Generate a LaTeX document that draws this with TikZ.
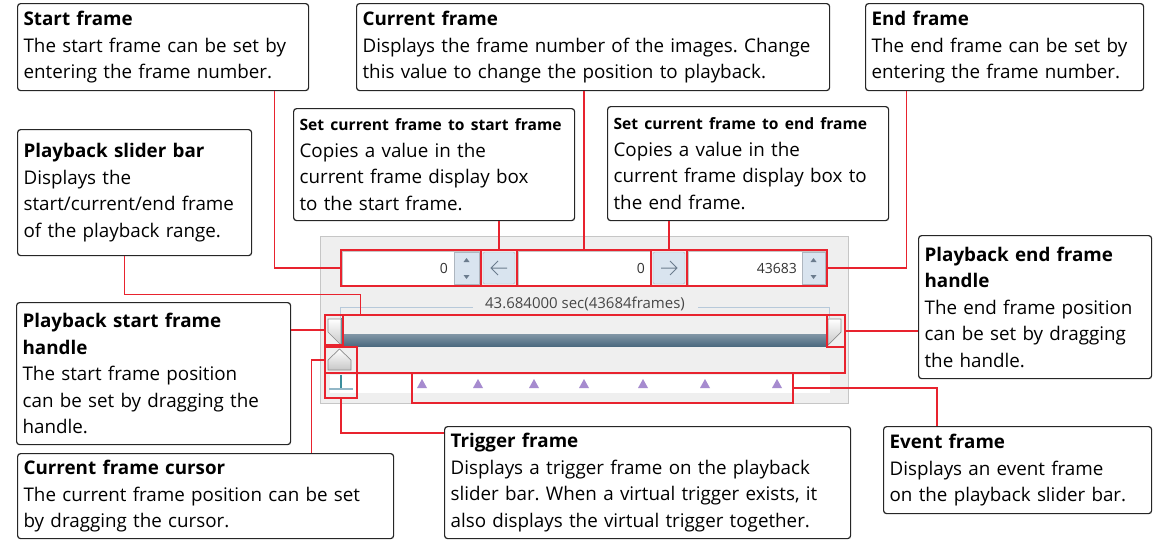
\documentclass[tikz,border=0pt]{standalone}
\usepackage{fontspec}
\setmainfont{Open Sans}
\usetikzlibrary{positioning, fit}
\definecolor{hlred}{HTML}{E8232E}
\definecolor{panelbg}{HTML}{EFEFEF}
\definecolor{panelrule}{HTML}{C6C6C6}
\definecolor{btnblue}{HTML}{D9E4EF}
\definecolor{glyph}{HTML}{6B7C8D}
\definecolor{trackdark}{HTML}{4C6A80}
\definecolor{grouprule}{HTML}{B7C9DA}
\definecolor{evpurple}{HTML}{A68BCF}
\definecolor{trigteal}{HTML}{3B8E9C}
\frenchspacing

\begin{document}
\begin{tikzpicture}[x=1pt, y=-1pt,
    note/.style={draw=black!85, line width=1.2pt, rounded corners=3pt, fill=white, anchor=north west,
      align=left, inner xsep=6pt, inner ysep=0pt, font=\fontsize{18.8}{26.5}\selectfont},
    hl/.style={draw=hlred, line width=1.4pt, inner sep=0pt},
    conn/.style={draw=hlred, line width=1.4pt},
    field/.style={fill=white, draw=panelrule, line width=0.6pt},
    spin/.style={fill=btnblue, draw=btnblue!80!black, line width=0.4pt},
    num/.style={anchor=east, font=\fontsize{14}{14}\selectfont, text=black!80, inner sep=0pt},
    handle/.style={top color=white, bottom color=black!22, draw=black!45, line width=0.7pt}]
    \useasboundingbox (0,0) rectangle (1157,541);

    % control panel
    \fill[panelbg] (320,236) rectangle (848,403);
    \draw[panelrule, line width=0.8pt] (320,236) rectangle (848,403);
    \draw[field] (342,251) rectangle (480,285);
    \draw[field] (518,251) rectangle (650,285);
    \draw[field] (688,251) rectangle (826,285);
    \draw[spin] (454,252) rectangle (479,284);
    \draw[spin] (802,252) rectangle (825,284);
    \draw[spin, rounded corners=2pt] (483,252) rectangle (515,284);
    \draw[spin, rounded corners=2pt] (653,252) rectangle (685,284);
    \foreach \sx in {466.5, 813.5} {
      \fill[glyph] (\sx-3,262) -- (\sx,258) -- (\sx+3,262) -- cycle;
      \fill[glyph] (\sx-3,275) -- (\sx,279) -- (\sx+3,275) -- cycle;
    }
    \draw[glyph, line width=1pt] (507,268) -- (491,268) (498,261) -- (491,268) -- (498,275);
    \draw[glyph, line width=1pt] (661,268) -- (677,268) (670,261) -- (677,268) -- (670,275);
    \node[num] (v0) at (448,268) {0};
    \node[num] (v1) at (645,268) {0};
    \node[num] (v2) at (797,268) {43683};
    \draw[grouprule, line width=0.8pt] (340,318) |- (473,307);
    \draw[grouprule, line width=0.8pt] (698,307) -| (829,318);
    \node[font=\fontsize{15}{15}\selectfont, text=black!72] (dur) at (585,304) {43.684000 sec(43684frames)};
    \fill[black!6] (343,318) rectangle (827,334);
    \fill[top color=trackdark!70, bottom color=trackdark] (343,334) rectangle (827,346);
    \draw[trigteal, line width=1.2pt] (342,318) -- (342,346);
    \fill[white] (330,375) rectangle (830,393);
    \draw[handle] (328,319) -- (341,319) -- (341,345) -- (328,332) -- cycle;
    \draw[handle] (828,319) -- (841,319) -- (841,332) -- (828,345) -- cycle;
    \draw[handle] (328,370) -- (328,360) -- (339.5,349) -- (351,360) -- (351,370) -- cycle;
    \draw[trigteal, line width=1.6pt] (341,375) -- (341,388);
    \draw[grouprule!70!trigteal, line width=1.2pt] (329,389) -- (353,389);
    \foreach \ex in {422,478,534,584,643,705,777}
      \fill[evpurple] (\ex-5,388) -- (\ex,379) -- (\ex+5,388) -- cycle;

    % highlighted parts
    \node[hl, fit={(341,250) (481,286)}] (startin) {};
    \node[hl, fit={(481,250) (517,286)}] (leftbtn) {};
    \node[hl, fit={(517,250) (651,286)}] (curin) {};
    \node[hl, fit={(651,250) (687,286)}] (rightbtn) {};
    \node[hl, fit={(687,250) (827,286)}] (endin) {};
    \node[hl, fit={(325,315) (845,373)}] (slider) {};
    \node[hl, fit={(325,315) (343,345)}] (shandle) {};
    \node[hl, fit={(827,315) (845,347)}] (ehandle) {};
    \node[hl, fit={(325,347) (357,373)}] (cursor) {};
    \node[hl, fit={(325,373) (357,398)}] (trig) {};
    \node[hl, fit={(412,373) (793,403)}] (events) {};

    % callouts
    \node[note, text width=279pt, minimum height=87pt] (startf) at (17,3)
      {\textbf{Start frame}\\The start frame can be set by\\entering the frame number.};
    \node[note, text width=461pt, minimum height=87pt] (curf) at (356,3)
      {\textbf{Current frame}\\Displays the frame number of the images. Change\\this value to change the position to playback.};
    \node[note, text width=266pt, minimum height=87pt] (endf) at (865,3)
      {\textbf{End frame}\\The end frame can be set by\\entering the frame number.};
    \node[note, text width=222pt, minimum height=126pt] (barf) at (17,129)
      {\textbf{Playback slider bar}\\Displays the\\start/current/end frame\\of the playback range.};
    \node[note, text width=269pt, minimum height=112pt] (tostartf) at (293,108)
      {{\fontsize{15.6}{26.5}\selectfont\textbf{Set current frame to start frame}}\\Copies a value in the\\current frame display box\\to the start frame.};
    \node[note, text width=269pt, minimum height=114pt] (toendf) at (607,106)
      {{\fontsize{15.6}{26.5}\selectfont\textbf{Set current frame to end frame}}\\Copies a value in the\\current frame display box to\\the end frame.};
    \node[note, text width=262pt, minimum height=142pt] (shandlef) at (16,302)
      {\textbf{Playback start frame}\\\textbf{handle}\\The start frame position\\can be set by dragging the\\handle.};
    \node[note, text width=364pt, minimum height=85pt] (cursorf) at (17,453)
      {\textbf{Current frame cursor}\\The current frame position can be set\\by dragging the cursor.};
    \node[note, text width=394pt, minimum height=112pt] (trigf) at (444,426)
      {\textbf{Trigger frame}\\Displays a trigger frame on the playback\\slider bar. When a virtual trigger exists, it\\also displays the virtual trigger together.};
    \node[note, text width=221pt, minimum height=143pt] (ehandlef) at (918,235)
      {\textbf{Playback end frame}\\\textbf{handle}\\The end frame position\\can be set by dragging\\the handle.};
    \node[note, text width=256pt, minimum height=87pt] (eventf) at (883,426)
      {\textbf{Event frame}\\Displays an event frame\\on the playback slider bar.};

    % connectors
    \draw[conn] ([xshift=-35pt]startf.south east) |- (startin.west);
    \draw[conn] (curin.north |- curf.south) -- (curin.north);
    \draw[conn] ([xshift=-98pt]endf.south) |- (endin.east);
    \draw[conn] (leftbtn.north |- tostartf.south) -- (leftbtn.north);
    \draw[conn] (rightbtn.north |- toendf.south) -- (rightbtn.north);
    \draw[conn] ([xshift=-10pt]barf.south) -- ++(0,38) -| ([xshift=36pt]slider.north west);
    \draw[conn] (shandlef.east |- shandle.west) -- (shandle.west);
    \draw[conn] (ehandle.east) -- (ehandlef.west |- ehandle.east);
    \draw[conn] (cursor.west) -| ([xshift=106pt]cursorf.north);
    \draw[conn] (trig.south) |- ([yshift=-7pt]trigf.north west);
    \draw[conn] (events.east) -| ([xshift=54pt]eventf.north west);
\end{tikzpicture}
\end{document}
